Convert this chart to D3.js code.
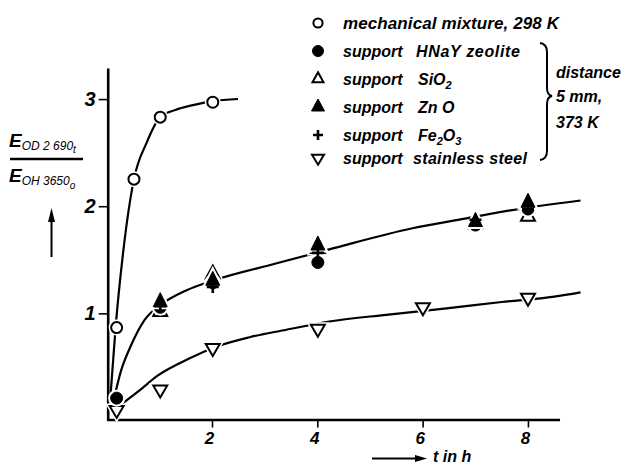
<!DOCTYPE html>
<meta charset="utf-8">
<title>Exchange kinetics</title>
<style>

body {
  margin: 0;
  background: #fff;
}

text {
  font-family: "Liberation Sans", Arial, sans-serif;
  font-style: italic;
  font-weight: bold;
  fill: #000;
}
.axis path, .axis line {
  stroke: #000;
  stroke-width: 2.6px;
}
.fit {
  fill: none;
  stroke: #000;
  stroke-width: 2.2px;
}
</style>
<body>
<script src="https://cdn.jsdelivr.net/npm/d3@7"></script>
<script>

var w = 623,
    h = 464;

// measured points (t in h, extinction ratio)
var mixT = [0.17, 0.5, 1, 2],
    mixE = [0.86, 2.25, 2.83, 2.97];
var hnayT = [0.17, 1, 2, 4, 7, 8],
    hnayE = [0.2, 1.05, 1.28, 1.47, 1.82, 1.97];
var sioT = [1, 2, 4, 7, 8],
    sioE = [1.01, 1.36, 1.6, 1.83, 1.9];
var znoT = [1, 2, 4, 7, 8],
    znoE = [1.1, 1.3, 1.63, 1.85, 2.03];
var feT = [1, 2, 4, 7, 8],
    feE = [1.06, 1.24, 1.56, 1.87, 1.97];
var steelT = [0.17, 1, 2, 4, 6, 8],
    steelE = [0.09, 0.28, 0.67, 0.85, 1.05, 1.14];

// hand drawn fit curves
var fitMixT = [0.05, 0.15, 0.3, 0.5, 0.74, 1, 1.3, 1.6, 2, 2.48],
    fitMixE = [0.2, 0.86, 1.59, 2.25, 2.59, 2.83, 2.9, 2.94, 2.98, 3.0];
var fitSupT = [0.1, 0.25, 0.45, 0.7, 1, 1.5, 2, 3.2, 4.2, 5.8, 6.8, 7.7, 9],
    fitSupE = [0.15, 0.45, 0.7, 0.93, 1.07, 1.21, 1.3, 1.46, 1.59, 1.79, 1.88, 1.96, 2.05];
var fitSteelT = [0.2, 0.6, 0.95, 1.55, 2, 2.7, 3.4, 4.25, 5.3, 6.45, 7.5, 8.5, 9],
    fitSteelE = [0.12, 0.27, 0.41, 0.57, 0.67, 0.77, 0.84, 0.92, 0.98, 1.04, 1.1, 1.15, 1.19];

var xTicks = [2, 4, 6, 8],
    yTicks = [1, 2, 3];

var x = d3.scaleLinear().domain([0, 8]).range([107.7, 528]);
var y = d3.scaleLinear().domain([0, 3]).range([419.5, 99]);

var svg = d3.select("body").append("svg")
    .attr("width", w)
    .attr("height", h);

// axes
var xAxisScale = x.copy().domain([0, 8.6]).range([x(0) - 1, x(8.6)]);
var yAxisScale = y.copy().domain([0, 3.29]).range([y(0) + 1, y(3.29)]);

var gx = svg.append("g")
    .attr("class", "axis")
    .attr("transform", "translate(0," + y(0) + ")")
    .call(d3.axisBottom(xAxisScale).tickValues(xTicks).tickFormat(d3.format("d"))
      .tickSize(8).tickSizeOuter(0).tickPadding(4));
gx.selectAll("text")
    .attr("font-size", 17)
    .attr("dx", -3);
gx.selectAll(".tick line").style("stroke-width", "1.6px");

var gy = svg.append("g")
    .attr("class", "axis")
    .attr("transform", "translate(" + x(0) + ",0)")
    .call(d3.axisLeft(yAxisScale).tickValues(yTicks).tickFormat(d3.format("d"))
      .tickSize(9).tickSizeOuter(0).tickPadding(3));
gy.selectAll("text")
    .attr("font-size", 20);
gy.selectAll(".tick line").style("stroke-width", "1.6px");
svg.selectAll(".axis text").attr("font-family", null).style("fill", "#000");
svg.selectAll(".axis .domain").attr("fill", "none");

// fit curves
var line = d3.line()
    .x(function(d) { return x(d[0]); })
    .y(function(d) { return y(d[1]); })
    .curve(d3.curveMonotoneX);

[[fitMixT, fitMixE], [fitSupT, fitSupE], [fitSteelT, fitSteelE]].forEach(function(f) {
  svg.append("path")
      .attr("class", "fit")
      .attr("d", line(d3.zip(f[0], f[1])));
});

// marker shapes
function triUp(wd, ht) {
  return "M0," + (-2 * ht / 3) + "L" + (wd / 2) + "," + (ht / 3) + "L" + (-wd / 2) + "," + (ht / 3) + "Z";
}
function triDown(wd, ht) {
  return "M0," + (2 * ht / 3) + "L" + (wd / 2) + "," + (-ht / 3) + "L" + (-wd / 2) + "," + (-ht / 3) + "Z";
}
function plus(s) {
  return "M" + (-s / 2) + ",0H" + (s / 2) + "M0," + (-s / 2) + "V" + (s / 2);
}
function circ(r) {
  return d3.symbol(d3.symbolCircle, Math.PI * r * r)();
}

var markers = {
  mix:   { d: circ(5.5), fill: "#fff", sw: 2, leg: circ(4.6) },
  sio:   { d: triUp(14, 13), fill: "#fff", sw: 2, leg: triUp(11, 10) },
  hnay:  { d: circ(6), fill: "#000", sw: 1, leg: circ(5.5) },
  zno:   { d: triUp(14, 14), fill: "#000", sw: 1, leg: triUp(13, 12) },
  fe:    { d: plus(12), fill: "none", sw: 2.6, leg: plus(10) },
  steel: { d: triDown(14, 12), fill: "#fff", sw: 2, leg: triDown(12, 10) }
};

function drawPoints(key, ts, es) {
  var m = markers[key];
  var pts = d3.zip(ts, es);
  var g = svg.append("g");
  // white halo leaves small gaps in the curves
  if (m.fill !== "none") {
    g.selectAll("path.halo")
      .data(pts)
      .enter().append("path")
        .attr("class", "halo")
        .attr("transform", function(d) { return "translate(" + x(d[0]) + "," + y(d[1]) + ")"; })
        .attr("d", m.d)
        .attr("fill", "#fff")
        .attr("stroke", "#fff")
        .attr("stroke-width", 5);
  }
  g.selectAll("path.mk")
    .data(pts)
    .enter().append("path")
      .attr("class", "mk")
      .attr("transform", function(d) { return "translate(" + x(d[0]) + "," + y(d[1]) + ")"; })
      .attr("d", m.d)
      .attr("fill", m.fill)
      .attr("stroke", "#000")
      .attr("stroke-width", m.sw)
      .attr("stroke-linejoin", "miter");
}

drawPoints("steel", steelT, steelE);
drawPoints("sio", sioT, sioE);
drawPoints("hnay", hnayT, hnayE);
drawPoints("zno", znoT, znoE);
drawPoints("fe", feT, feE);
drawPoints("mix", mixT, mixE);

// legend
var legKeys = ["mix", "hnay", "sio", "zno", "fe", "steel"],
    legY = [23, 51, 79, 107, 135, 158];

var leg = svg.append("g");
legKeys.forEach(function(k, i) {
  var m = markers[k];
  leg.append("path")
      .attr("transform", "translate(318," + legY[i] + ")")
      .attr("d", m.leg)
      .attr("fill", m.fill)
      .attr("stroke", "#000")
      .attr("stroke-width", m.sw);
});

function legText(xp, yp) {
  return leg.append("text")
      .attr("x", xp)
      .attr("y", yp + 6)
      .attr("font-size", 16);
}
legText(343, legY[0]).text("mechanical mixture, 298 K")
    .attr("font-size", 17)
    .attr("textLength", 216)
    .attr("lengthAdjust", "spacing");
legText(343, legY[1]).text("support");
legText(416, legY[1]).text("HNaY zeolite")
    .attr("textLength", 104)
    .attr("lengthAdjust", "spacing");
legText(343, legY[2]).text("support");
var t = legText(418, legY[2]).text("SiO");
t.append("tspan").attr("font-size", 11).attr("dy", 4).text("2");
legText(343, legY[3]).text("support");
legText(418, legY[3]).text("Zn O");
legText(343, legY[4]).text("support");
t = legText(418, legY[4]).text("Fe");
t.append("tspan").attr("font-size", 11).attr("dy", 4).text("2");
t.append("tspan").attr("dy", -4).text("O");
t.append("tspan").attr("font-size", 11).attr("dy", 4).text("3");
legText(343, legY[5]).text("support");
legText(413, legY[5]).text("stainless steel")
    .attr("textLength", 114)
    .attr("lengthAdjust", "spacing");

// brace and condition note
leg.append("path")
    .attr("d", "M540,43Q547,44 547,52L547,88Q547,95 552,96Q547,97 547,104L547,151Q547,159 540,160")
    .attr("fill", "none")
    .attr("stroke", "#000")
    .attr("stroke-width", 2);
[["distance", 78], ["5 mm,", 102], ["373 K", 128]].forEach(function(d) {
  leg.append("text")
      .attr("x", 556)
      .attr("y", d[1])
      .attr("font-size", 16)
      .text(d[0]);
});

// y label as fraction
var num = svg.append("text").attr("x", 9).attr("y", 147).attr("font-size", 19).text("E");
num.append("tspan").attr("font-size", 12).attr("font-weight", "normal").attr("dy", 3).text("OD 2 690");
num.append("tspan").attr("font-size", 10).attr("font-weight", "normal").attr("dy", 3).text("t");
svg.append("line")
    .attr("x1", 10).attr("x2", 83)
    .attr("y1", 159).attr("y2", 159)
    .attr("stroke", "#000")
    .attr("stroke-width", 2.5);
var den = svg.append("text").attr("x", 9).attr("y", 182).attr("font-size", 19).text("E");
den.append("tspan").attr("font-size", 12).attr("font-weight", "normal").attr("dy", 3).text("OH 3650");
den.append("tspan").attr("font-size", 10).attr("font-weight", "normal").attr("dy", 4).text("o");

// arrows
svg.append("line")
    .attr("x1", 51.5).attr("x2", 51.5)
    .attr("y1", 257).attr("y2", 218)
    .attr("stroke", "#000").attr("stroke-width", 2);
svg.append("path")
    .attr("d", "M51.5,208L55,222L48,222Z")
    .attr("fill", "#000");

svg.append("line")
    .attr("x1", 372).attr("x2", 418)
    .attr("y1", 458.5).attr("y2", 458.5)
    .attr("stroke", "#000").attr("stroke-width", 2);
svg.append("path")
    .attr("d", "M427,458.5L415,455L415,462Z")
    .attr("fill", "#000");
svg.append("text")
    .attr("x", 433)
    .attr("y", 462)
    .attr("font-size", 16)
    .text("t in h");

</script>
